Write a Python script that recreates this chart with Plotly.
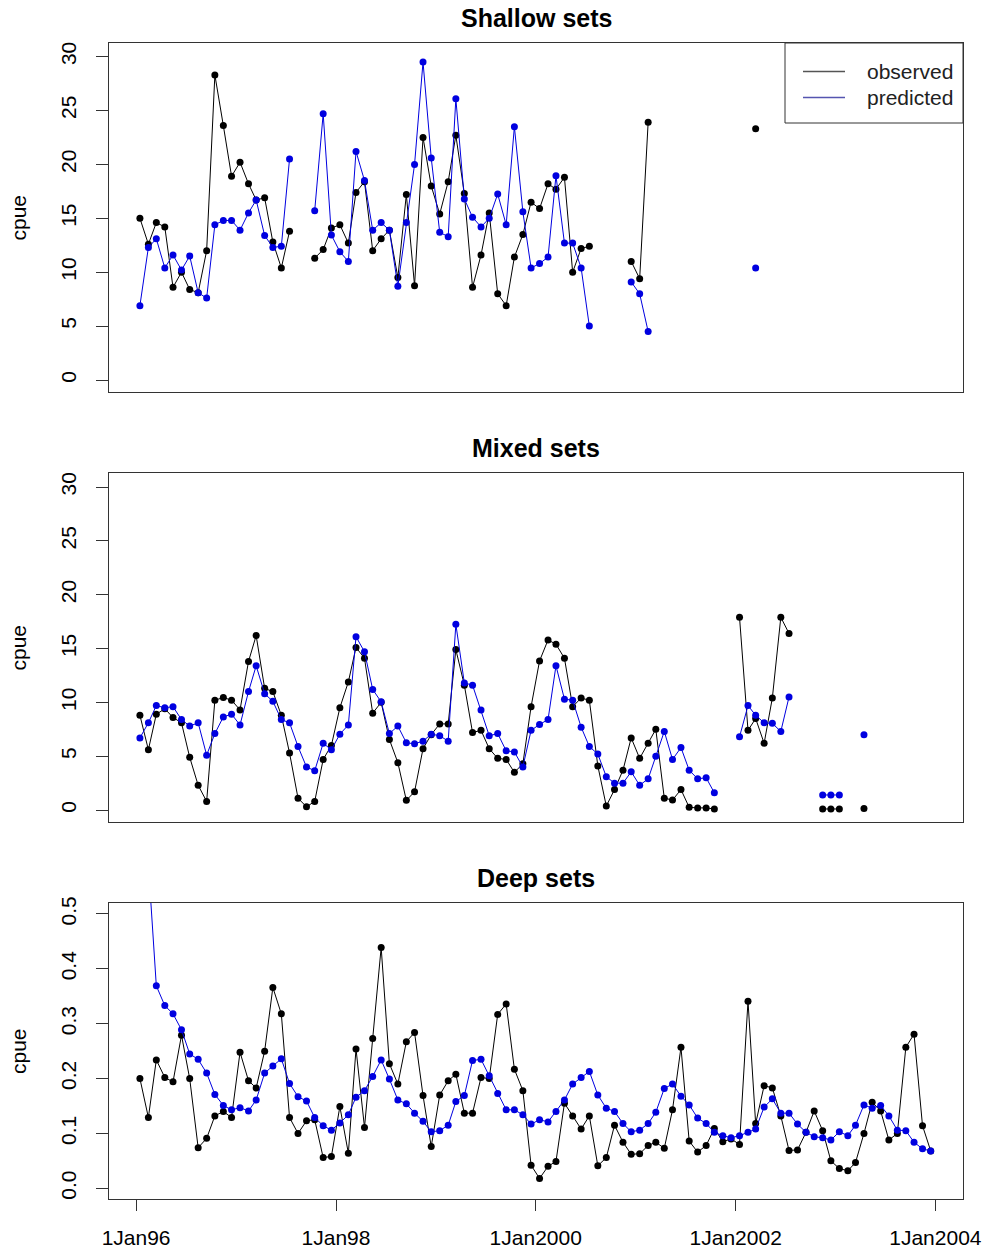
import plotly.graph_objects as go

# ---------------- data ----------------
months = [f"{1996 + i // 12}-{i % 12 + 1:02d}-15" for i in range(96)]
N = None

shallow_obs = [15.0, 12.6, 14.6, 14.2, 8.6, 10.0, 8.4, 8.1, 12.0, 28.3, 23.6, 18.9,
               20.2, 18.2, 16.7, 16.9, 12.8, 10.4, 13.8, N, N, 11.3, 12.1, 14.1,
               14.4, 12.7, 17.4, 18.4, 12.0, 13.1, 13.9, 9.5, 17.2, 8.75, 22.5, 18.0,
               15.4, 18.4, 22.7, 17.3, 8.6, 11.6, 15.5, 8.0, 6.9, 11.4, 13.5, 16.5,
               15.9, 18.2, 17.7, 18.8, 10.0, 12.2, 12.4, N, N, N, N, 11.0,
               9.4, 23.9, N, N, N, N, N, N, N, N, N, N,
               N, N, 23.3]
shallow_pred = [6.9, 12.3, 13.1, 10.4, 11.6, 10.2, 11.5, 8.1, 7.6, 14.4, 14.8, 14.8,
                13.9, 15.5, 16.7, 13.4, 12.3, 12.4, 20.5, N, N, 15.7, 24.7, 13.45,
                11.9, 11.0, 21.2, 18.5, 13.9, 14.6, 13.9, 8.7, 14.6, 20.0, 29.5, 20.6,
                13.7, 13.3, 26.1, 16.8, 15.1, 14.2, 15.0, 17.25, 14.4, 23.5, 15.6, 10.4,
                10.8, 11.4, 18.95, 12.7, 12.7, 10.4, 5.0, N, N, N, N, 9.1,
                8.0, 4.5, N, N, N, N, N, N, N, N, N, N,
                N, N, 10.4]

mixed_obs = [8.8, 5.6, 8.9, 9.4, 8.6, 8.1, 4.9, 2.3, 0.8, 10.2, 10.45, 10.2,
             9.3, 13.8, 16.2, 11.3, 11.0, 8.8, 5.3, 1.1, 0.3, 0.8, 4.7, 6.0,
             9.5, 11.9, 15.1, 14.1, 9.0, 10.0, 6.55, 4.4, 0.9, 1.7, 5.7, 7.0,
             8.0, 8.0, 14.9, 11.6, 7.2, 7.4, 5.7, 4.8, 4.7, 3.5, 4.3, 9.6,
             13.85, 15.8, 15.4, 14.1, 9.6, 10.4, 10.2, 4.1, 0.37, 1.9, 3.7, 6.7,
             4.8, 6.2, 7.5, 1.1, 0.93, 1.9, 0.25, 0.2, 0.2, 0.1, N, N,
             17.9, 7.4, 8.5, 6.2, 10.4, 17.9, 16.4, N, N, N, 0.1, 0.1,
             0.1, N, N, 0.15]
mixed_pred = [6.7, 8.1, 9.7, 9.5, 9.6, 8.4, 7.8, 8.1, 5.1, 7.1, 8.65, 8.9,
              7.9, 11.0, 13.4, 10.8, 10.1, 8.4, 8.1, 5.9, 4.0, 3.65, 6.2, 5.6,
              7.05, 7.9, 16.1, 14.7, 11.2, 10.05, 7.1, 7.8, 6.25, 6.15, 6.4, 7.05,
              6.9, 6.4, 17.25, 11.8, 11.6, 9.3, 6.9, 7.1, 5.5, 5.4, 4.0, 7.4,
              7.95, 8.4, 13.4, 10.3, 10.2, 7.7, 5.9, 5.2, 3.1, 2.5, 2.5, 3.55,
              2.3, 2.9, 5.0, 7.3, 4.7, 5.8, 3.7, 2.9, 3.0, 1.6, N, N,
              6.8, 9.7, 8.8, 8.1, 8.05, 7.3, 10.5, N, N, N, 1.4, 1.4,
              1.4, N, N, 7.0]

deep_obs = [0.200, 0.129, 0.234, 0.202, 0.194, 0.279, 0.200, 0.074, 0.091, 0.132, 0.140, 0.129,
            0.248, 0.196, 0.183, 0.250, 0.366, 0.318, 0.129, 0.100, 0.123, 0.125, 0.056, 0.058,
            0.149, 0.064, 0.254, 0.111, 0.273, 0.439, 0.227, 0.190, 0.267, 0.284, 0.169, 0.076,
            0.170, 0.196, 0.208, 0.137, 0.137, 0.202, 0.200, 0.317, 0.336, 0.217, 0.178, 0.042,
            0.018, 0.040, 0.049, 0.155, 0.132, 0.108, 0.132, 0.041, 0.056, 0.115, 0.084, 0.062,
            0.063, 0.078, 0.084, 0.073, 0.143, 0.257, 0.086, 0.066, 0.078, 0.109, 0.085, 0.090,
            0.080, 0.341, 0.118, 0.187, 0.183, 0.132, 0.069, 0.070, 0.102, 0.141, 0.105, 0.050,
            0.036, 0.032, 0.047, 0.100, 0.157, 0.141, 0.088, 0.100, 0.257, 0.281, 0.114, 0.068]
deep_pred = [0.75, 0.59, 0.369, 0.333, 0.318, 0.289, 0.245, 0.235, 0.210, 0.171, 0.151, 0.143,
             0.147, 0.141, 0.161, 0.210, 0.223, 0.236, 0.191, 0.167, 0.159, 0.129, 0.114, 0.106,
             0.119, 0.134, 0.166, 0.178, 0.204, 0.234, 0.199, 0.161, 0.154, 0.137, 0.122, 0.103,
             0.105, 0.115, 0.158, 0.169, 0.233, 0.235, 0.205, 0.173, 0.143, 0.143, 0.134, 0.117,
             0.125, 0.121, 0.140, 0.161, 0.190, 0.202, 0.213, 0.170, 0.146, 0.140, 0.118, 0.103,
             0.106, 0.118, 0.1385, 0.182, 0.190, 0.168, 0.152, 0.128, 0.118, 0.102, 0.096, 0.092,
             0.096, 0.102, 0.108, 0.148, 0.163, 0.137, 0.137, 0.117, 0.102, 0.094, 0.092, 0.088,
             0.103, 0.096, 0.115, 0.152, 0.146, 0.151, 0.132, 0.106, 0.105, 0.084, 0.072, 0.068]

panel_titles = ["Shallow sets", "Mixed sets", "Deep sets"]
series_names = ["observed", "predicted"]
x_tick_dates = ["1996-01-01", "1998-01-01", "2000-01-01", "2002-01-01", "2004-01-01"]
x_tick_labels = ["1Jan96", "1Jan98", "1Jan2000", "1Jan2002", "1Jan2004"]
cpue_ticks = [0, 5, 10, 15, 20, 25, 30]
deep_ticks = [0.0, 0.1, 0.2, 0.3, 0.4, 0.5]
deep_tick_labels = ["0.0", "0.1", "0.2", "0.3", "0.4", "0.5"]

# ---------------- style ----------------
W, H = 987, 1257
FONT = "Liberation Sans, Arial, Helvetica, sans-serif"
OBS_COLOR = "#000000"
PRED_COLOR = "#0000E0"
FRAME = "#333333"

def px_x(p):
    return p / W

def px_y(p):
    return 1 - p / H

# panel boxes in pixels: (top, bottom)
boxes = [(43, 392), (473, 822), (903, 1199)]
x_left, x_right = 109, 963
x_range = ["1995-09-24", "2004-04-11"]
y_ranges = [[-1.11, 31.26], [-1.11, 31.3], [-0.0195, 0.52]]

fig = go.Figure()

panels = [(shallow_obs, shallow_pred), (mixed_obs, mixed_pred), (deep_obs, deep_pred)]
for k, (obs, pred) in enumerate(panels):
    xa = "x" if k == 0 else f"x{k+1}"
    ya = "y" if k == 0 else f"y{k+1}"
    for vals, color, name in ((obs, OBS_COLOR, series_names[0]),
                              (pred, PRED_COLOR, series_names[1])):
        fig.add_trace(go.Scatter(
            x=months[:len(vals)], y=vals, mode="lines+markers", name=name,
            line=dict(color=color, width=1),
            marker=dict(color=color, size=7),
            xaxis=xa, yaxis=ya, showlegend=False,
        ))

layout = dict(
    width=W, height=H,
    margin=dict(l=0, r=0, t=0, b=0),
    paper_bgcolor="white", plot_bgcolor="white",
    font=dict(family=FONT, size=21, color="#000000"),
    showlegend=False,
)

annotations = []
shapes = []
for k in range(3):
    top, bot = boxes[k]
    xname = "xaxis" if k == 0 else f"xaxis{k+1}"
    yname = "yaxis" if k == 0 else f"yaxis{k+1}"
    ya = "y" if k == 0 else f"y{k+1}"
    xa_ref = "x" if k == 0 else f"x{k+1}"
    last = (k == 2)
    layout[xname] = dict(
        domain=[px_x(x_left), px_x(x_right)], range=x_range, type="date",
        anchor=ya, showgrid=False, zeroline=False,
        showline=True, mirror=True, linecolor=FRAME, linewidth=1,
        ticks="outside" if last else "", ticklen=11, tickcolor=FRAME, tickwidth=1,
        showticklabels=last,
        tickmode="array", tickvals=x_tick_dates, ticktext=x_tick_labels,
        tickfont=dict(size=21), ticklabelstandoff=9,
        automargin=False,
    )
    if last:
        tv, tt = deep_ticks, deep_tick_labels
    else:
        tv, tt = cpue_ticks, [str(v) for v in cpue_ticks]
    layout[yname] = dict(
        domain=[px_y(bot), px_y(top)], range=y_ranges[k],
        anchor=xa_ref, showgrid=False, zeroline=False,
        showline=True, mirror=True, linecolor=FRAME, linewidth=1,
        ticks="outside", ticklen=12, tickcolor=FRAME, tickwidth=1,
        tickmode="array", tickvals=tv, ticktext=tt, tickangle=-90,
        tickfont=dict(size=21), ticklabelstandoff=12, automargin=False,
    )
    annotations.append(dict(
        text=f"<b>{panel_titles[k]}</b>", xref="paper", yref="paper",
        x=px_x((x_left + x_right) / 2), y=px_y(top - 25),
        xanchor="center", yanchor="middle", showarrow=False,
        font=dict(size=25, family=FONT),
    ))
    annotations.append(dict(
        text="cpue", xref="paper", yref="paper",
        x=px_x(18), y=px_y((top + bot) / 2),
        xanchor="center", yanchor="middle", showarrow=False, textangle=-90,
        font=dict(size=21, family=FONT),
    ))

# legend box drawn R-style (lines only) in the top-right of the first panel
leg_left, leg_top, leg_bottom = 785, 43, 123
shapes.append(dict(type="rect", xref="paper", yref="paper",
                   x0=px_x(leg_left), x1=px_x(x_right), y0=px_y(leg_bottom), y1=px_y(leg_top),
                   line=dict(color=FRAME, width=1), fillcolor="white", layer="above"))
for name, color, yy in zip(series_names, ("#555555", "#5555B0"), (71.5, 97.5)):
    shapes.append(dict(type="line", xref="paper", yref="paper",
                       x0=px_x(803), x1=px_x(845), y0=px_y(yy), y1=px_y(yy),
                       line=dict(color=color, width=1.5), layer="above"))
    annotations.append(dict(text=name, xref="paper", yref="paper",
                            x=px_x(865), y=px_y(yy), xanchor="left", yanchor="middle",
                            showarrow=False, font=dict(size=21, family=FONT, color="#222222")))

layout["annotations"] = annotations
layout["shapes"] = shapes
fig.update_layout(**layout)

fig.write_html("out.html")
